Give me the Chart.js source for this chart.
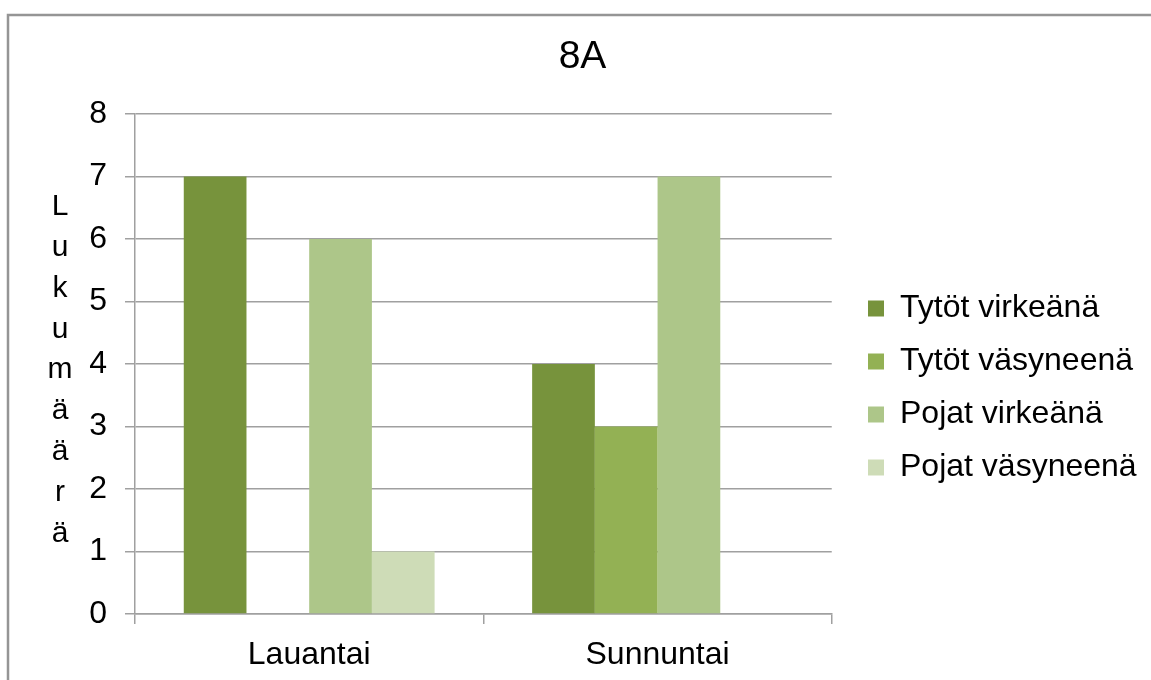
<!DOCTYPE html>
<html>
<head>
<meta charset="utf-8">
<script src="https://cdn.jsdelivr.net/npm/chart.js@4/dist/chart.umd.min.js"></script>
<style>
  html, body { margin: 0; padding: 0; background: #fff; }
  #wrap { width: 1151px; height: 680px; position: relative; }
</style>
</head>
<body>
<div id="wrap"><canvas id="c" width="1151" height="680"></canvas></div>
<script>
// Chart content
const chartTitle = '8A';
const axisTitle = 'Lukumäärä';
const categories = ['Lauantai', 'Sunnuntai'];
const seriesNames = ['Tytöt virkeänä', 'Tytöt väsyneenä', 'Pojat virkeänä', 'Pojat väsyneenä'];
const tytotVirkeana = [7, 4];
const tytotVasyneena = [0, 3];
const pojatVirkeana = [6, 7];
const pojatVasyneena = [1, 0];
const yTicks = [0, 1, 2, 3, 4, 5, 6, 7, 8];

const seriesValues = [tytotVirkeana, tytotVasyneena, pojatVirkeana, pojatVasyneena];
const seriesColors = ['#77933c', '#93b154', '#adc689', '#cedcb7'];

const FONT = '"Liberation Sans", Arial, sans-serif';
Chart.defaults.font.family = FONT;
Chart.defaults.color = '#000';

// Outer frame of the chart object
const framePlugin = {
  id: 'frame',
  beforeDraw(chart) {
    const ctx = chart.ctx;
    ctx.save();
    ctx.fillStyle = '#fff';
    ctx.fillRect(0, 0, chart.width, chart.height);
    ctx.strokeStyle = '#959595';
    ctx.lineWidth = 2.5;
    ctx.beginPath();
    ctx.moveTo(8, chart.height + 2);
    ctx.lineTo(8, 15);
    ctx.lineTo(chart.width + 2, 15);
    ctx.stroke();
    ctx.restore();
  }
};

// Vertical axis title written as a column of stacked letters
const stackedTitlePlugin = {
  id: 'stackedTitle',
  afterDraw(chart) {
    const ctx = chart.ctx;
    const letters = Array.from(axisTitle);
    ctx.save();
    ctx.font = '30px ' + FONT;
    ctx.fillStyle = '#000';
    ctx.textAlign = 'center';
    ctx.textBaseline = 'alphabetic';
    letters.forEach((ch, i) => ctx.fillText(ch, 60, 215 + i * 40.85));
    ctx.restore();
  }
};

// Places the legend block and the title within the frame
const blockPlacePlugin = {
  id: 'blockPlace',
  afterLayout(chart) {
    const lg = chart.legend;
    if (lg) {
      const dx = 847 - lg.left;
      const dy = 24;
      lg.left += dx;
      lg.right = chart.width;
      lg.width = lg.right - lg.left;
      lg.maxWidth = lg.width;
      lg.top += dy; lg.bottom += dy;
    }
    const tb = chart.titleBlock;
    if (tb) {
      const tx = 28;
      tb.left += tx; tb.right += tx;
    }
  }
};

new Chart(document.getElementById('c'), {
  type: 'bar',
  data: {
    labels: categories,
    datasets: seriesNames.map((name, i) => ({
      label: name,
      data: seriesValues[i],
      backgroundColor: seriesColors[i],
      borderWidth: 0,
      categoryPercentage: 0.72,
      barPercentage: 1.0
    }))
  },
  options: {
    responsive: false,
    animation: false,
    layout: { padding: { left: 0, right: 42, top: 0, bottom: 0 } },
    plugins: {
      title: {
        display: true,
        text: chartTitle,
        font: { size: 39, weight: 'normal' },
        color: '#000',
        padding: { top: 33.6, bottom: 33.6 }
      },
      legend: {
        display: true,
        position: 'right',
        fullSize: false,
        labels: {
          boxWidth: 16,
          boxHeight: 16,
          padding: 21,
          font: { size: 32 },
          color: '#000'
        }
      },
      tooltip: { enabled: false }
    },
    scales: {
      x: {
        afterFit(scale) { scale.height = 66; },
        grid: {
          display: true,
          offset: true,
          drawOnChartArea: false,
          drawTicks: true,
          tickLength: 10,
          color: '#a0a0a0',
          lineWidth: 1.5
        },
        border: { display: true, color: '#a0a0a0', width: 1.5 },
        ticks: { font: { size: 32 }, color: '#000', padding: 12 }
      },
      y: {
        min: 0,
        max: 8,
        afterFit(scale) { scale.width = 135; },
        afterBuildTicks(scale) { scale.ticks = yTicks.map(v => ({ value: v })); },
        grid: {
          color: '#a0a0a0',
          lineWidth: 1.5,
          drawTicks: true,
          tickLength: 10
        },
        border: { display: true, color: '#a0a0a0', width: 1.5 },
        ticks: { font: { size: 32 }, color: '#000', padding: 18 }
      }
    }
  },
  plugins: [framePlugin, stackedTitlePlugin, blockPlacePlugin]
});
</script>
</body>
</html>
